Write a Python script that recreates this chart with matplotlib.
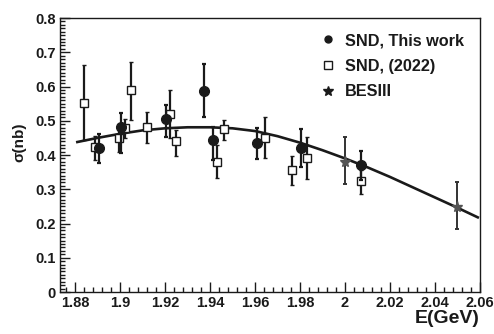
import matplotlib
matplotlib.use("Agg")
import matplotlib.pyplot as plt
from matplotlib.ticker import MultipleLocator, FuncFormatter
from matplotlib.lines import Line2D

plt.rcParams['font.family'] = ['Liberation Sans', 'DejaVu Sans']

# SND, This work
snd_x = [1.8908, 1.9004, 1.9204, 1.9375, 1.9415, 1.9607, 1.9804, 2.0070]
snd_y = [0.420, 0.481, 0.504, 0.587, 0.444, 0.434, 0.421, 0.371]
snd_lo = [0.377, 0.405, 0.453, 0.510, 0.385, 0.387, 0.366, 0.327]
snd_hi = [0.462, 0.523, 0.545, 0.666, 0.483, 0.478, 0.475, 0.412]

# SND, (2022)
old_x = [1.8840, 1.8890, 1.8995, 1.9020, 1.9050, 1.9120, 1.9220, 1.9250, 1.9430, 1.9460, 1.9644, 1.9763, 1.9830, 2.0070]
old_y = [0.552, 0.424, 0.449, 0.478, 0.590, 0.483, 0.519, 0.441, 0.381, 0.476, 0.451, 0.356, 0.390, 0.325]
old_lo = [0.444, 0.385, 0.410, 0.450, 0.502, 0.436, 0.450, 0.397, 0.332, 0.444, 0.390, 0.312, 0.329, 0.286]
old_hi = [0.663, 0.455, 0.490, 0.505, 0.672, 0.526, 0.590, 0.473, 0.429, 0.502, 0.510, 0.397, 0.452, 0.356]

# BESIII
bes_x = [2.0000, 2.0496]
bes_y = [0.381, 0.249]
bes_lo = [0.315, 0.183]
bes_hi = [0.452, 0.322]

# fit curve
fit_x = [1.881, 1.89, 1.90, 1.91, 1.92, 1.93, 1.94, 1.95, 1.96, 1.97, 1.98, 1.99, 2.00, 2.01, 2.02, 2.03, 2.04, 2.05, 2.059]
fit_y = [0.438, 0.450, 0.462, 0.472, 0.478, 0.481, 0.481, 0.478, 0.470, 0.455, 0.436, 0.414, 0.390, 0.364, 0.336, 0.306, 0.276, 0.246, 0.218]

xticks = [1.88, 1.90, 1.92, 1.94, 1.96, 1.98, 2.00, 2.02, 2.04, 2.06]
yticks = [0, 0.1, 0.2, 0.3, 0.4, 0.5, 0.6, 0.7, 0.8]

col = '#1a1a1a'
fig = plt.figure(figsize=(4.94, 3.34), dpi=100)
ax = fig.add_axes([0.1215, 0.1257, 0.8502, 0.8203])

ax.plot(fit_x, fit_y, color=col, lw=1.9, zorder=2)

def err(y, lo, hi):
    return [[yy - l for yy, l in zip(y, lo)], [h - yy for yy, h in zip(y, hi)]]

ax.errorbar(old_x, old_y, yerr=err(old_y, old_lo, old_hi), fmt='s', ms=6,
            mfc='white', mec=col, mew=1.0, ecolor=col, elinewidth=1.6, capsize=1.5,
            capthick=1.6, zorder=3)
ax.errorbar(snd_x, snd_y, yerr=err(snd_y, snd_lo, snd_hi), fmt='o', ms=7,
            mfc=col, mec=col, ecolor=col, elinewidth=1.6, capsize=1.5,
            capthick=1.6, zorder=4)
ax.errorbar(bes_x, bes_y, yerr=err(bes_y, bes_lo, bes_hi), fmt='*', ms=8,
            mfc='#555555', mec='#555555', ecolor='#333333', elinewidth=1.4, capsize=1.5,
            capthick=1.4, zorder=4)

ax.set_xlim(1.8733, 2.06)
ax.set_ylim(0, 0.8)
ax.xaxis.set_minor_locator(MultipleLocator(0.004))
ax.yaxis.set_minor_locator(MultipleLocator(0.01))
ax.set_xticks(xticks)
ax.set_yticks(yticks)
ax.xaxis.set_major_formatter(FuncFormatter(lambda v, p: f'{v:g}'))
ax.yaxis.set_major_formatter(FuncFormatter(lambda v, p: f'{v:g}'))
ax.tick_params(which='both', direction='in', top=False, right=False, colors=col,
               labelsize=10.5, width=1.0)
ax.tick_params(which='major', length=7, pad=3)
ax.tick_params(which='minor', length=3.5)
for lab in ax.get_xticklabels() + ax.get_yticklabels():
    lab.set_fontweight('bold')
for s in ax.spines.values():
    s.set_linewidth(1.0)
    s.set_color(col)

ax.set_xlabel('E(GeV)', fontsize=14, fontweight='bold', color=col)
ax.xaxis.set_label_coords(1.0, -0.065)
ax.xaxis.label.set_horizontalalignment('right')
ax.set_ylabel('σ(nb)', fontsize=11, fontweight='bold', color=col)
ax.yaxis.set_label_coords(-0.08, 0.547)

handles = [
    Line2D([], [], ls='none', marker='o', ms=5, mfc=col, mec=col),
    Line2D([], [], ls='none', marker='s', ms=5.5, mfc='white', mec=col, mew=1.0),
    Line2D([], [], ls='none', marker='*', ms=7, mfc=col, mec=col),
]
labels = ['SND, This work', 'SND, (2022)', 'BESIII']
leg = fig.legend(handles, labels, loc='upper left',
                 bbox_to_anchor=(320 / 494, 1 - 33 / 334), bbox_transform=fig.transFigure,
                 frameon=False, prop={'weight': 'bold', 'size': 11.7},
                 handletextpad=0.55, labelspacing=0.66, handlelength=1.0, borderpad=0,
                 borderaxespad=0)
for t in leg.get_texts():
    t.set_color(col)

fig.savefig('out.png', dpi=100)
